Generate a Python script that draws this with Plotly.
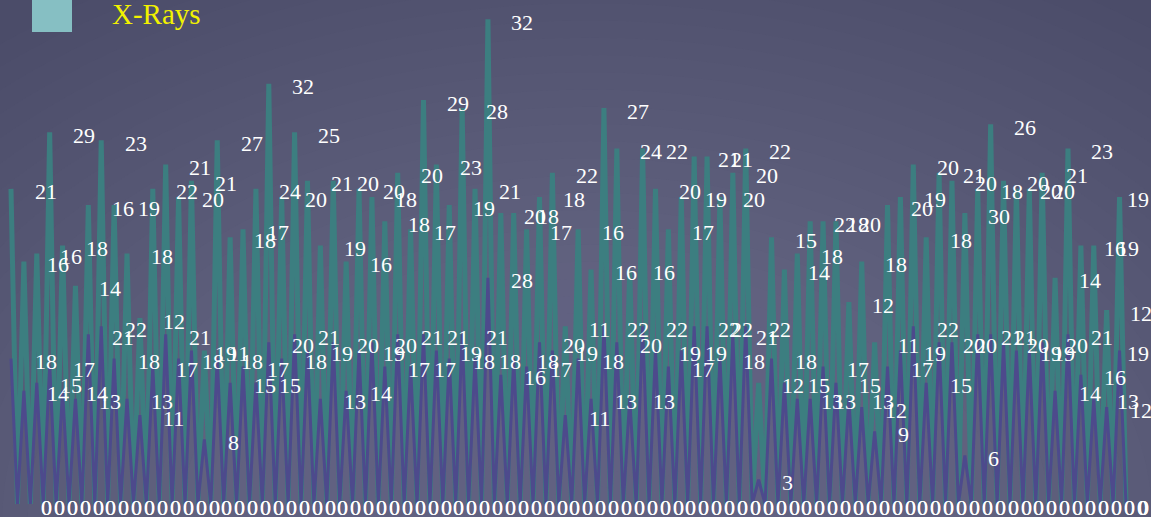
import plotly.graph_objects as go

# One reading per sample; every reading is followed by a zero reading,
# which is what gives the chart its spike shape.
xray = [
    21, 16, 16, 29, 18, 14, 16, 23, 19, 18,
    12, 22, 21, 20, 21, 11, 27, 18, 17, 24,
    32, 20, 25, 21, 19, 20, 16, 20, 18, 18,
    20, 17, 29, 23, 19, 28, 21, 32, 20, 18,
    17, 18, 22, 11, 16, 16, 27, 24, 16, 22,
    20, 17, 19, 21, 21, 20, 20, 22, 12, 15,
    14, 18, 22, 18, 20, 12, 18, 11, 20, 19,
    20, 18, 21, 20, 30, 18, 26, 20, 20, 20,
    21, 14, 23, 16, 19, 12, 19,
]
base = [
    18, 14, 15, 17, 14, 13, 21, 22, 18, 13,
    11, 17, 21, 18, 19, 8, 18, 15, 17, 15,
    20, 18, 21, 19, 13, 20, 14, 19, 20, 17,
    21, 17, 21, 19, 18, 21, 18, 28, 16, 18,
    17, 20, 19, 11, 18, 13, 22, 20, 13, 22,
    19, 17, 19, 22, 22, 18, 21, 22, 3, 18,
    15, 13, 13, 17, 15, 13, 12, 9, 17, 19,
    22, 15, 20, 20, 6, 21, 21, 20, 19, 19,
    20, 14, 21, 16, 13, 12, 19,
]

SERIES_NAME = "X-Rays"
TEAL = "#3c7e80"
INDIGO = "#4d4a8c"
LEGEND_SWATCH = "#86bfc3"
LABEL_FONT = "Liberation Serif"


def with_gaps(values):
    out = []
    for v in values:
        out += [v, 0]
    return out


base_pts = with_gaps(base)
xray_pts = with_gaps(xray)
x = list(range(len(base_pts)))

# canvas geometry
W, H = 1151, 517
MB = 13
PLOT_H = H - MB
STEP = 6.445          # px between consecutive points
X0 = 11               # px position of the first point
PX_PER_UNIT = 8.08
x_range = [-X0 / STEP, (W - X0) / STEP]
y_range = [0, PLOT_H / PX_PER_UNIT]

fig = go.Figure()
fig.add_trace(go.Scatter(
    x=x, y=base_pts, name="Series 2", stackgroup="s", fill="none",
    mode="lines", line=dict(color=INDIGO, width=3, shape="linear"),
    showlegend=False, hoverinfo="skip", zorder=1,
))
fig.add_trace(go.Scatter(
    x=x, y=xray_pts, name=SERIES_NAME, stackgroup="s", fill="none",
    mode="lines", line=dict(color=TEAL, width=5, shape="linear"),
    showlegend=False, hoverinfo="skip", zorder=0,
))

# value labels, placed to the right of each point at its stacked height
annotations = []
LABEL_DX = 21.5
LABEL_DY = -3
for i in x:
    b = base_pts[i]
    t = xray_pts[i]
    for text, ypos in ((str(b), b), (str(t), b + t)):
        left_px = X0 + STEP * i + LABEL_DX
        width_px = 11 * len(text)
        common = dict(
            y=ypos, yref="y", text=text, showarrow=False,
            yanchor="middle", yshift=LABEL_DY,
            font=dict(family=LABEL_FONT, size=22, color="white"),
        )
        if left_px + width_px > W:
            annotations.append(dict(x=1, xref="paper", xanchor="right", **common))
        else:
            annotations.append(dict(x=i, xref="x", xanchor="left",
                                    xshift=LABEL_DX, **common))

# legend entry
annotations.append(dict(
    x=110 / W, xref="paper", y=(PLOT_H - 14) / PLOT_H, yref="paper",
    text=SERIES_NAME, showarrow=False, xanchor="left", yanchor="middle",
    font=dict(family=LABEL_FONT, size=29, color="#f2f200"),
))

shapes = []
# soft radial glow behind the plot
N = 36
gcx, gcy = 590, 520
for k in range(N, 0, -1):
    rx = 920 * k / N
    ry = 620 * k / N
    shapes.append(dict(
        type="circle", xref="paper", yref="paper",
        x0=(gcx - rx) / W, x1=(gcx + rx) / W,
        y0=(PLOT_H - (gcy + ry)) / PLOT_H, y1=(PLOT_H - (gcy - ry)) / PLOT_H,
        fillcolor="rgba(132,128,156,0.03)", line=dict(width=0), layer="below",
    ))
shapes.append(dict(
    type="rect", xref="paper", yref="paper",
    x0=32 / W, x1=72 / W, y0=(PLOT_H - 32) / PLOT_H, y1=(PLOT_H + 10) / PLOT_H,
    fillcolor=LEGEND_SWATCH, line=dict(width=0), layer="above",
))

fig.update_layout(
    width=W, height=H,
    margin=dict(l=0, r=0, t=0, b=MB),
    paper_bgcolor="#4b4c69",
    plot_bgcolor="rgba(0,0,0,0)",
    showlegend=False,
    xaxis=dict(range=x_range, visible=False, fixedrange=True),
    yaxis=dict(range=y_range, visible=False, fixedrange=True),
    annotations=annotations,
    shapes=shapes,
)

fig.write_html("out.html")
